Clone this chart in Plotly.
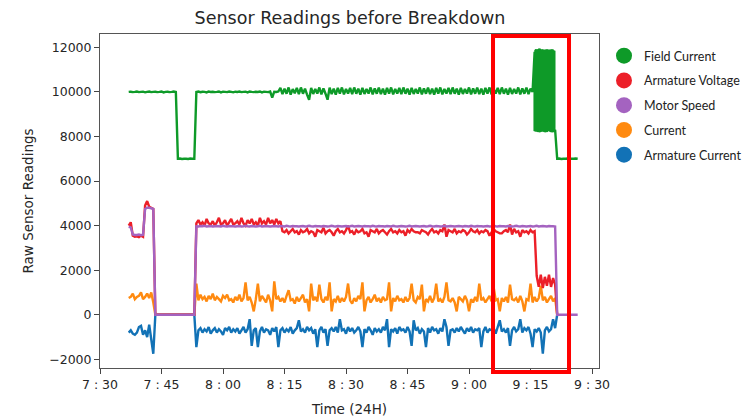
import plotly.graph_objects as go

# ---------------- data ----------------
# samples every 0.5 min starting 7:37 (457 min after midnight)
T0_MIN = 457.0
DT_MIN = 0.5
N_SAMPLES = 220
time_min = [T0_MIN + DT_MIN * i for i in range(N_SAMPLES)]

# Field Current
field_pre = [10000, 10010, 9990, 10000, 10020, 9990, 10000, 10010, 9980, 10000, 10020, 9990, 10000]
field_gap = [10010, 9990, 10000, 10020, 9980, 10000, 10010, 9990, 10000, 10020, 10000,
             7000, 7010, 6990, 7000, 7000, 6990, 7010, 7000, 7000]
field_main = [10000, 10020, 9990, 10010, 10000, 9980, 10020, 10000, 10010, 9990,
              10000, 10020, 9980, 10010, 10000, 9990, 10020, 10000, 9980, 10010,
              10000, 10020, 9990, 10000, 10010, 9980, 10020, 10000, 9990, 10010,
              10000, 10020, 9980, 10010, 10000, 9990, 10020, 9750, 10010, 10000,
              10020,
              10180, 9900, 10150, 9920, 10200, 9880, 10130, 9940, 10180,
              9900, 10200, 9920, 10150, 9880, 9650, 10180, 9910, 10130, 9930,
              10200, 9890, 10160, 9920, 9650, 10190, 9900, 10150, 9880, 10180,
              9920, 10200, 9890, 10130, 9930, 10180, 9900, 10200, 9920, 10150,
              9880, 10180, 9910, 10130, 9930, 10200, 9890, 10160, 9920, 10190,
              9900, 10150, 9880, 10180, 9920, 10200, 9890, 10130, 9930, 10180,
              9900, 10200, 9920, 10150, 9880, 10180, 9910, 10130, 9930, 10200,
              9890, 10160, 9920, 10190, 9900, 10150, 9880, 10180, 9920, 10200,
              9890, 10130, 9930, 10180, 9900, 10200, 9920, 10150, 9880, 10180,
              9910, 10130, 9930, 10200, 9890, 10160, 9920, 10190, 9900, 10150,
              9880, 10180, 9920, 10200, 9890, 10130, 9930, 10180, 9900, 10200,
              9920, 10150, 9880, 10180, 9910, 10130, 9930, 10200, 9890, 10160,
              9920, 10190, 9900, 10150, 10000]
# oscillation just before breakdown (9:16 - 9:21): per 0.2-min sample the
# swing is recorded as (first value, second value) at the same timestamp
field_osc_start = 556.0
field_osc_step = 0.2
field_osc_first = [11800, 8300, 11900, 8250, 11850, 8350, 11950, 8200, 11800, 8300,
                   11900, 8250, 11850, 8300, 11800, 8200, 11900, 8350, 11850, 8250,
                   11800, 8300, 11900, 8200, 11850, 8300]
field_osc_second = [8250, 11850, 8300, 11900, 8200, 11800, 8300, 11900, 8250, 11850,
                    8300, 11800, 8200, 11900, 8350, 11850, 8250, 11800, 8300, 11900,
                    8200, 11850, 8300, 11800, 8250, 8300]
field_post = [7000, 7010, 6990, 7000, 7000, 7010, 6990, 7000, 7000, 7010, 7000]

# Armature Voltage
volt_pre = [4000, 4150, 3550, 3500, 3520, 3480, 3550, 3500, 4900, 5100, 4850, 4800, 4750]
volt_gap = [0, 0, 0, 0, 0, 0, 0, 0, 0, 0, 0, 0, 0, 0, 0, 0, 0, 0, 0, 0]
volt_main = [4100, 4250, 4050, 4150, 4000, 4300, 4100, 4050, 4200, 4000,
             4150, 4350, 4050, 4100, 4250, 4000, 4150, 4300, 4050, 4100,
             4200, 4050, 4350, 4100, 4000, 4250, 4100, 4300, 4050, 4150,
             4000, 4350, 4100, 4200, 4050, 4350, 4100, 4250, 4050, 4300,
             4100, 4200,
             3750, 3700, 3800, 3650, 3750, 3850, 3700, 3750,
             3600, 3800, 3700, 3750, 3850, 3650, 3750, 3700, 3500, 3800,
             3750, 3700, 3900, 3650, 3750, 3800, 3700, 3550, 3750, 3850,
             3700, 3750, 3650, 3800, 4000, 3700, 3750, 3600, 3800, 3700,
             3750, 3850, 3650, 3700, 3500, 3800, 3750, 3700, 3850, 3650,
             3750, 3800, 3700, 3600, 3750, 3850, 3700, 3750, 3650, 3800,
             3700, 3750, 3550, 3800, 3700, 3850, 3750, 3700, 3700, 3650,
             3800, 3750, 3700, 3600, 3750, 3850, 3700, 3750, 3650, 3800,
             3750, 4050, 3500, 3800, 3750, 3700, 3850, 3650, 3750, 3700,
             3800, 3750, 3600, 3700, 3850, 3750, 3700, 3800, 3650, 3750,
             3700, 3800, 3750, 3550, 3700, 3850, 3750, 3700, 3650, 3650,
             3750, 3800, 3700, 4050, 3600, 3850, 3700, 3750, 3500, 3800,
             3700, 3750, 3650, 3800, 3700, 3750,
             1750, 1250, 1800, 1200, 1700, 1300, 1800, 1250, 1650, 1350]
volt_post = [0]

# Motor Speed
speed_pre = [3950, 3920, 3600, 3580, 3580, 3600, 3570, 3590, 4750, 4800, 4800, 4780, 4750]
speed_gap = [0, 0, 0, 0, 0, 0, 0, 0, 0, 0, 0, 0, 0, 0, 0, 0, 0, 0, 0, 0]
speed_main = [3970, 3960, 3980, 3970, 3990, 3960, 3970, 3980, 3960, 3970,
              3980, 3970, 3960, 3990, 3970, 3960, 3980, 3970, 3970, 3960,
              3970, 3980, 3960, 3970, 3990, 3970, 3960, 3980, 3970, 3960,
              3970, 3990, 3960, 3970, 3980, 3970, 3960, 3970, 3980, 3970,
              3960, 3980, 3970, 3960, 3990, 3970, 3960, 3980, 3970, 3970,
              3960, 3970, 3980, 3960, 3970, 3990, 3970, 3960, 3980, 3970,
              3970, 3960, 3980, 3970, 3960, 3970, 3990, 3970, 3960, 3980,
              3970, 3960, 3970, 3980, 3960, 3970, 3990, 3960, 3970, 3980,
              3970, 3960, 3980, 3970, 3970, 3960, 3990, 3970, 3960, 3980,
              3970, 3970, 3960, 3980, 3970, 3960, 3990, 3970, 3960, 3970,
              3980, 3970, 3960, 3970, 3990, 3960, 3970, 3980, 3970, 3960,
              3970, 3980, 3960, 3970, 3990, 3970, 3960, 3980, 3970, 3960,
              3970, 3990, 3960, 3970, 3980, 3970, 3960, 3970, 3980, 3970,
              3960, 3980, 3970, 3960, 3990, 3970, 3960, 3980, 3970, 3970,
              3960, 3970, 3980, 3960, 3970, 3990, 3970, 3960, 3980, 3970,
              3970, 3960, 3980, 3970, 3960, 3970, 3990, 3970, 3960, 3980,
              3970, 3960, 3970, 3980, 3960, 3970, 3990, 3960, 3970, 3980,
              3970, 3960, 3980, 3970, 3970, 3960]
speed_post = [0, 0, 0, 0, 0, 0, 0, 0, 0, 0, 0]

# Current
cur_pre = [750, 800, 950, 700, 800, 850, 1000, 700, 800, 950, 750, 1000, 550]
cur_gap = [0, 0, 0, 0, 0, 0, 0, 0, 0, 0, 0, 0, 0, 0, 0, 0, 0, 0, 0, 0]
cur_main = [1400, 650, 900, 700, 800, 600, 850, 700, 950, 650,
            800, 700, 600, 850, 750, 900, 650, 700, 550, 800,
            650, 900, 600, 750, 1450, 650, 800, 550, 150, 700,
            1400, 600, 850, 700, 550, 900, 650, 150, 1500, 700,
            800, 600, 750, 550, 850, 1100, 650, 700, 500, 800,
            600, 750, 900, 550, 700, 150, 1400, 650, 800, 600,
            1350, 700, 550, 800, 650, 1450, 150, 700, 600, 850,
            550, 750, 600, 800, 1400, 650, 500, 750, 600, 850,
            700, 1450, 150, 650, 800, 550, 700, 900, 600, 750,
            550, 800, 650, 700, 1450, 150, 750, 600, 850, 650,
            700, 550, 800, 600, 750, 1400, 650, 550, 800, 700,
            1350, 150, 700, 600, 850, 550, 750, 1400, 600, 700,
            550, 800, 1450, 650, 600, 750, 550, 150, 800, 700,
            600, 850, 650, 150, 700, 550, 800, 600, 1400, 650,
            750, 550, 700, 850, 600, 1250, 650, 700, 150, 750,
            600, 800, 550, 1350, 700, 650, 750, 550, 850, 600,
            150, 700, 650, 1400, 550, 800, 600, 750, 1300, 650,
            800, 550, 700, 850, 600, 750]
cur_post = [0]

# Armature Current
acur_pre = [-800, -700, -850, -900, -800, -550, -500, -900, -700, -1000, -450, -1100, -1750]
acur_gap = [0, 0, 0, 0, 0, 0, 0, 0, 0, 0, 0, 0, 0, 0, 0, 0, 0, 0, 0, 0]
acur_main = [-1450, -700, -600, -800, -650, -750, -550, -850, -700, -600,
             -800, -650, -750, -900, -600, -700, -550, -800, -650, -750,
             -600, -850, -700, -550, -800, -650, -200, -1400, -700, -600,
             -1450, -750, -550, -800, -650, -700, -900, -600, -750, -550,
             -1450, -700, -600, -800, -650, -750, -550, -850, -700, -600,
             -250, -750, -650, -800, -550, -700, -600, -850, -650, -1450,
             -700, -550, -800, -650, -1400, -700, -600, -750, -550, -800,
             -200, -700, -650, -850, -550, -750, -600, -800, -700, -550,
             -750, -1450, -650, -800, -550, -700, -900, -600, -750, -650,
             -800, -550, -700, -200, -1450, -650, -750, -600, -850, -550,
             -700, -650, -800, -550, -750, -1400, -250, -700, -600, -850,
             -650, -750, -1450, -600, -800, -550, -700, -650, -850, -600,
             -750, -200, -550, -1400, -700, -650, -800, -600, -750, -550,
             -700, -850, -600, -750, -550, -800, -650, -700, -600, -1450,
             -750, -550, -800, -650, -700, -600, -850, -550, -250, -750,
             -650, -800, -600, -1400, -700, -550, -750, -650, -200, -800,
             -600, -700, -550, -850, -1450, -650, -750, -600, -800, -1750,
             -700, -550, -750, -650, -200, -600]
acur_post = [0]

tick_minutes = [450, 465, 480, 495, 510, 525, 540, 555, 570]
tick_labels = ["7 : 30", "7 : 45", "8 : 00", "8 : 15", "8 : 30", "8 : 45", "9 : 00", "9 : 15", "9 : 30"]
y_ticks = [-2000, 0, 2000, 4000, 6000, 8000, 10000, 12000]
y_tick_labels = ["\u22122000", "0", "2000", "4000", "6000", "8000", "10000", "12000"]

# ---------------- assemble series ----------------
osc_time, osc_vals = [], []
for k, (a, b) in enumerate(zip(field_osc_first, field_osc_second)):
    tk = field_osc_start + field_osc_step * k
    osc_time += [tk, tk]
    osc_vals += [a, b]

field_vals = field_pre + field_gap + field_main + osc_vals + field_post
n_before_osc = len(field_pre) + len(field_gap) + len(field_main)
field_time = time_min[:n_before_osc] + osc_time + time_min[N_SAMPLES - len(field_post):]

volt_vals = volt_pre + volt_gap + volt_main + volt_post
speed_vals = speed_pre + speed_gap + speed_main + speed_post
cur_vals = cur_pre + cur_gap + cur_main + cur_post
acur_vals = acur_pre + acur_gap + acur_main + acur_post

C_BLUE = "#1272b6"
C_ORANGE = "#ff8a10"
C_GREEN = "#0e9a28"
C_RED = "#ec1f28"
C_PURPLE = "#a463c0"

fig = go.Figure()
# draw order: blue, orange, green, red, purple (purple on top)
series = [
    ("Armature Current", acur_vals, time_min[:len(acur_vals)], C_BLUE),
    ("Current", cur_vals, time_min[:len(cur_vals)], C_ORANGE),
    ("Field Current", field_vals, field_time, C_GREEN),
    ("Armature Voltage", volt_vals, time_min[:len(volt_vals)], C_RED),
    ("Motor Speed", speed_vals, time_min[:len(speed_vals)], C_PURPLE),
]
for name, vals, tt, col in series:
    fig.add_trace(go.Scatter(x=tt, y=vals, mode="lines", name=name,
                             line=dict(color=col, width=2.4, simplify=False),
                             showlegend=False, hoverinfo="skip"))

# legend entries (circles), top to bottom
legend_order = [("Field Current", C_GREEN), ("Armature Voltage", C_RED),
                ("Motor Speed", C_PURPLE), ("Current", C_ORANGE),
                ("Armature Current", C_BLUE)]
for name, col in legend_order:
    fig.add_trace(go.Scatter(x=[None], y=[None], mode="markers", name=name,
                             legendgroup=name,
                             marker=dict(color=col, size=16, symbol="circle")))

axis_font = dict(family="DejaVu Sans", size=12.5, color="#262626")
title_font = dict(family="DejaVu Sans", size=13.5, color="#262626")

fig.update_layout(
    width=750, height=420,
    margin=dict(l=100, r=151, t=34, b=52, autoexpand=False),
    paper_bgcolor="white", plot_bgcolor="white",
    title=dict(text="Sensor Readings before Breakdown", x=0.4667, xanchor="center",
               y=1 - 18 / 420, yanchor="middle",
               font=dict(family="DejaVu Sans", size=17.5, color="#262626")),
    showlegend=True,
    legend=dict(xref="container", yref="container", x=604 / 750, xanchor="left",
                y=1 - 41 / 420, yanchor="top",
                traceorder="grouped", tracegroupgap=5.5, itemsizing="trace",
                font=dict(family="Lato", size=12.5, color="#222"),
                bgcolor="rgba(0,0,0,0)", borderwidth=0),
    shapes=[dict(type="rect", xref="paper", yref="paper",
                 x0=0.7876, x1=0.9399, y0=-0.012, y1=0.994,
                 line=dict(color="#ff0000", width=4), fillcolor="rgba(0,0,0,0)",
                 layer="above")],
)

fig.update_xaxes(range=[450, 571.7], tickvals=tick_minutes, ticktext=tick_labels,
                 ticks="outside", ticklen=5, tickcolor="#444", tickfont=axis_font,
                 showline=True, linecolor="#555", linewidth=1, mirror=True,
                 showgrid=False, zeroline=False,
                 title=dict(text="Time (24H)", font=title_font, standoff=13))
fig.update_yaxes(range=[-2390, 12600], tickvals=y_ticks, ticktext=y_tick_labels,
                 ticks="outside", ticklen=5, tickcolor="#444", tickfont=axis_font,
                 showline=True, linecolor="#555", linewidth=1, mirror=True,
                 showgrid=False, zeroline=False,
                 title=dict(text="Raw Sensor Readings", font=title_font, standoff=12))

fig.write_html("out.html")
